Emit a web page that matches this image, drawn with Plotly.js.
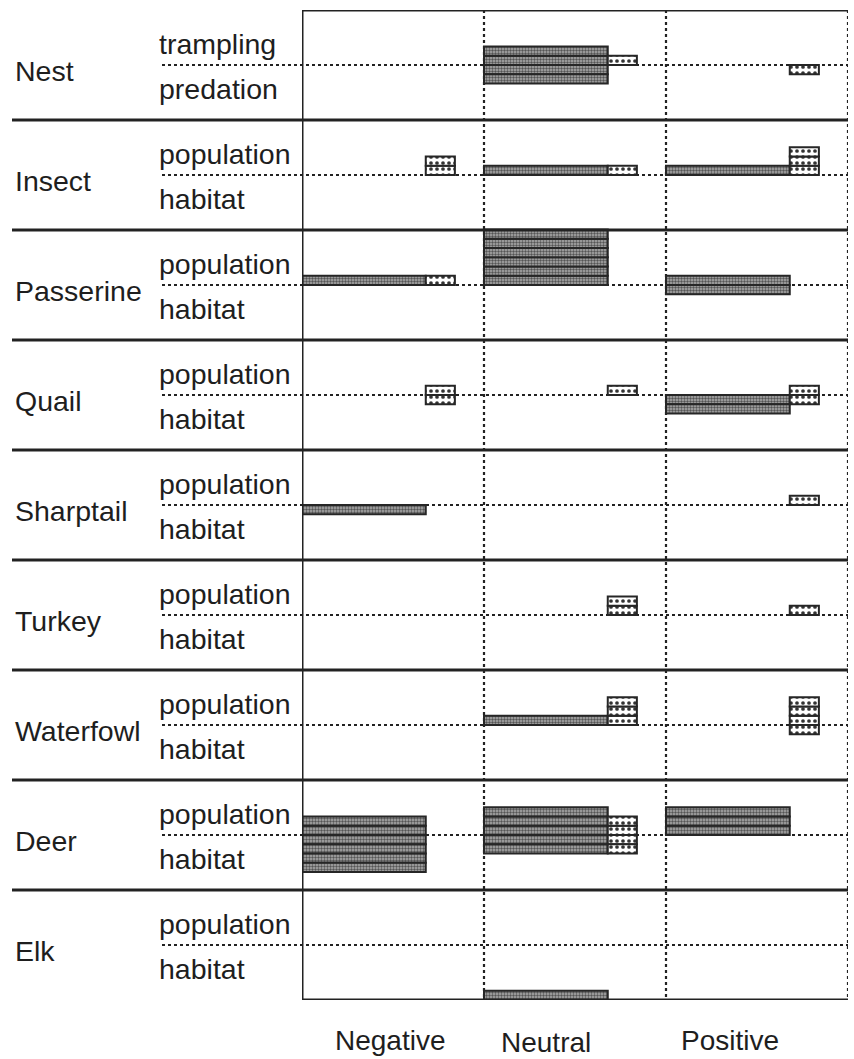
<!DOCTYPE html>
<html><head><meta charset="utf-8">
<script src="https://cdn.plot.ly/plotly-3.0.1.min.js"></script>
<style>html,body{margin:0;padding:0;background:#fff}#chart{width:854px;height:1059px}</style>
</head><body><div id="chart"></div>
<script>
const species = ["Nest","Insect","Passerine","Quail","Sharptail","Turkey","Waterfowl","Deer","Elk"];
const upperLabels = ["trampling","population","population","population","population","population","population","population","population"];
const lowerLabels = ["predation","habitat","habitat","habitat","habitat","habitat","habitat","habitat","habitat"];
const columns = ["Negative","Neutral","Positive"];
// counts of studies per row, per column [Negative, Neutral, Positive]
const grayAbove = [[0,2,0],[0,1,1],[1,6,1],[0,0,0],[0,0,0],[0,0,0],[0,1,0],[2,3,3],[0,0,0]];
const grayBelow = [[0,2,0],[0,0,0],[0,0,1],[0,0,2],[1,0,0],[0,0,0],[0,0,0],[4,2,0],[0,1,0]];
const dotAbove  = [[0,1,0],[2,1,3],[1,0,0],[1,1,1],[0,0,1],[0,2,1],[0,3,3],[0,2,0],[0,0,0]];
const dotBelow  = [[0,0,1],[0,0,0],[0,0,0],[1,0,1],[0,0,0],[0,0,0],[0,0,1],[0,2,0],[0,0,0]];
// rows whose lower gray stack rests on the row's bottom edge instead of the midline
const grayBelowFromEdge = [0,0,0,0,0,0,0,0,1];

const H = 0.084;           // bar thickness in row units
const GRAY_LEN = 0.68, DOT_LEN = 0.16;
const FONT = "Liberation Sans, Arial, Helvetica, sans-serif";

function build(counts, dir, start, len, fromEdge) {
  const x = [], base = [], y = [];
  counts.forEach((row, i) => {
    const mid = -(i + 0.5);
    row.forEach((n, c) => {
      for (let k = 0; k < n; k++) {
        let yc;
        if (dir > 0) yc = mid + (k + 0.5) * H;
        else if (fromEdge && fromEdge[i]) yc = -(i + 1) + (k + 0.5) * H;
        else yc = mid - (k + 0.5) * H;
        x.push(len); base.push(c + start); y.push(yc);
      }
    });
  });
  return {x, base, y};
}

function merge(a, b) {
  return {x: a.x.concat(b.x), base: a.base.concat(b.base), y: a.y.concat(b.y)};
}

const g = merge(build(grayAbove, 1, 0, GRAY_LEN), build(grayBelow, -1, 0, GRAY_LEN, grayBelowFromEdge));
const d = merge(build(dotAbove, 1, GRAY_LEN, DOT_LEN), build(dotBelow, -1, GRAY_LEN, DOT_LEN));

const traces = [
  {type: 'bar', orientation: 'h', x: g.x, base: g.base, y: g.y, width: H,
   marker: {color: '#9a9a9a', line: {color: '#262626', width: 2},
     pattern: {shape: '.', bgcolor: '#adadad', fgcolor: '#555', size: 3, solidity: 0.5}},
   hoverinfo: 'skip', showlegend: false},
  {type: 'bar', orientation: 'h', x: d.x, base: d.base, y: d.y, width: H,
   marker: {color: '#ffffff', line: {color: '#262626', width: 2},
     pattern: {shape: '.', bgcolor: '#ffffff', fgcolor: '#333', size: 6, solidity: 0.3}},
   hoverinfo: 'skip', showlegend: false}
];

const L = 302, R = 848, PW = R - L;
const px = v => (v - L) / PW;
const shapes = [];
const annotations = [];
const nRows = species.length;
const solid = {color: '#222', width: 3};
const dotted = {color: '#222', width: 2.2, dash: '3px,3px'};

// top and bottom frame lines
shapes.push({type: 'line', xref: 'x', yref: 'y', x0: 0, x1: 3, y0: 0, y1: 0, line: solid});
shapes.push({type: 'line', xref: 'x', yref: 'y', x0: 0, x1: 3, y0: -nRows, y1: -nRows, line: solid});
// row separators
for (let i = 1; i < nRows; i++) {
  shapes.push({type: 'line', xref: 'paper', yref: 'y', x0: px(12), x1: 1, y0: -i, y1: -i, line: solid});
}
// midlines
for (let i = 0; i < nRows; i++) {
  const mid = -(i + 0.5);
  shapes.push({type: 'line', xref: 'paper', yref: 'y', x0: px(162), x1: 1, y0: mid, y1: mid, line: dotted, layer: 'below'});
}
// column dividers
for (let c = 1; c <= columns.length; c++) {
  shapes.push({type: 'line', xref: 'x', yref: 'y', x0: c, x1: c, y0: 0, y1: -nRows, line: dotted, layer: 'below'});
}
// left axis
shapes.push({type: 'line', xref: 'x', yref: 'y', x0: 0, x1: 0, y0: 0.015, y1: -nRows, line: solid});

const fontBig = {family: FONT, size: 28.5, color: '#1e1e1e'};
species.forEach((s, i) => {
  const mid = -(i + 0.5);
  annotations.push({xref: 'paper', yref: 'y', x: px(13), y: mid - 0.05, text: s, showarrow: false,
    xanchor: 'left', yanchor: 'middle', font: fontBig});
  annotations.push({xref: 'paper', yref: 'y', x: px(157), y: mid + 0.19, text: upperLabels[i], showarrow: false,
    xanchor: 'left', yanchor: 'middle', font: fontBig});
  annotations.push({xref: 'paper', yref: 'y', x: px(157), y: mid - 0.22, text: lowerLabels[i], showarrow: false,
    xanchor: 'left', yanchor: 'middle', font: fontBig});
});
const colX = [390, 546, 730];
const colY = [1040, 1042, 1040];
const fontCol = {family: FONT, size: 28, color: '#1e1e1e'};
columns.forEach((c, j) => {
  annotations.push({xref: 'paper', yref: 'paper', x: px(colX[j]), y: (1000 - colY[j]) / 990, text: c,
    showarrow: false, xanchor: 'center', yanchor: 'middle', font: fontCol, borderpad: 0});
});

const layout = {
  width: 854, height: 1059,
  margin: {l: L, r: 854 - R, t: 10, b: 59, pad: 0},
  paper_bgcolor: '#fff', plot_bgcolor: '#fff',
  barmode: 'overlay',
  xaxis: {range: [0, 3], showgrid: false, zeroline: false, showticklabels: false, ticks: '', showline: false, fixedrange: true},
  yaxis: {range: [-nRows, 0], showgrid: false, zeroline: false, showticklabels: false, ticks: '', showline: false, fixedrange: true},
  shapes, annotations, showlegend: false
};

Plotly.newPlot('chart', traces, layout, {staticPlot: true, displayModeBar: false});
</script>
</body></html>
